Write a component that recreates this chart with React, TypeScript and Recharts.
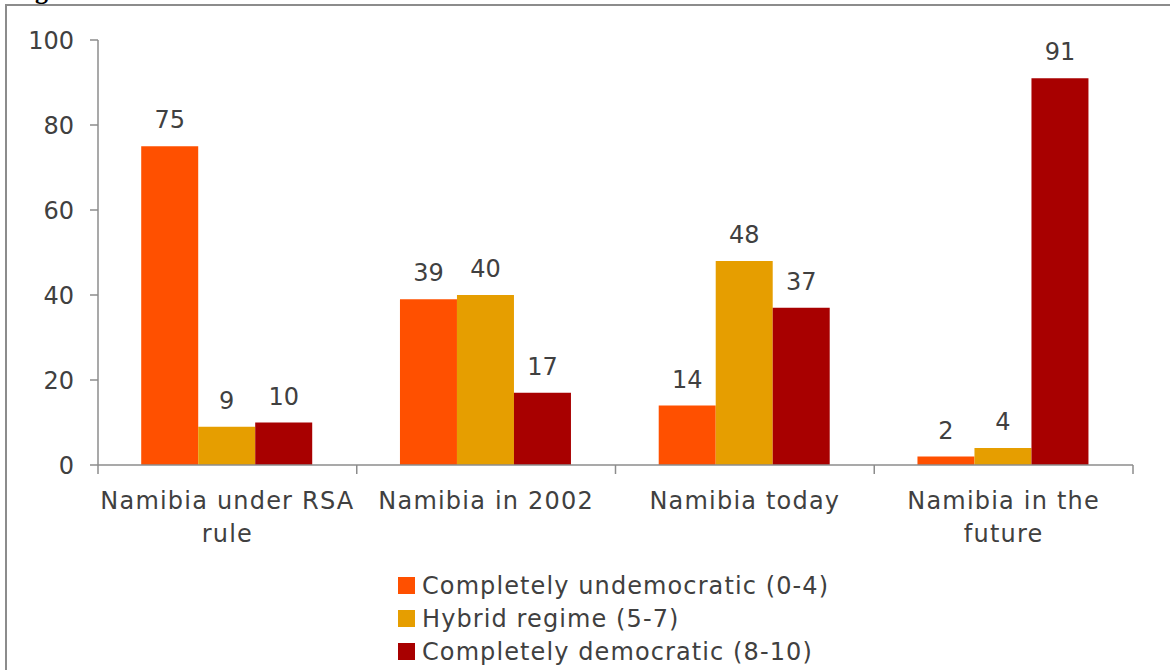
import { BarChart, Bar, XAxis, YAxis, LabelList, Legend } from 'recharts';

// ── Data ───────────────────────────────────────────────────────────────────
const categories = [
  'Namibia under RSA rule',
  'Namibia in 2002',
  'Namibia today',
  'Namibia in the future',
];
const undemocratic = [75, 39, 14, 2];
const hybrid = [9, 40, 48, 4];
const democratic = [10, 17, 37, 91];
const yTicks = [0, 20, 40, 60, 80, 100];

const SERIES = [
  { key: 'undemocratic', name: 'Completely undemocratic (0-4)', color: '#FF5000' },
  { key: 'hybrid', name: 'Hybrid regime (5-7)', color: '#E69E00' },
  { key: 'democratic', name: 'Completely democratic (8-10)', color: '#A80000' },
];

const data = categories.map((name, i) => ({
  name,
  undemocratic: undemocratic[i],
  hybrid: hybrid[i],
  democratic: democratic[i],
}));

const FONT = '"DejaVu Sans", sans-serif';
const TEXT = '#404040';
const AXIS = '#8C8C8C';
const LABEL_SPACING = 1.2;

// greedy word wrap, measured with a canvas
let ctx: CanvasRenderingContext2D | null = null;
function wrap(text: string, maxWidth: number): string[] {
  if (!ctx) ctx = document.createElement('canvas').getContext('2d');
  if (!ctx) return [text];
  ctx.font = `24px ${FONT}`;
  const measure = (s: string) => ctx!.measureText(s).width + s.length * LABEL_SPACING;
  const lines: string[] = [];
  let cur = '';
  for (const w of text.split(' ')) {
    const next = cur ? `${cur} ${w}` : w;
    if (cur && measure(next) > maxWidth) {
      lines.push(cur);
      cur = w;
    } else cur = next;
  }
  if (cur) lines.push(cur);
  return lines;
}

// category label plus boundary tick marks (Excel style, between groups)
function CategoryTick(props: any) {
  const { x, y, payload, index, visibleTicksCount } = props;
  const half = payload?.offset ?? 129.4;
  const last = index === (visibleTicksCount ?? categories.length) - 1;
  const lines = wrap(String(payload.value), 268);
  return (
    <g>
      <line x1={x - half} x2={x - half} y1={y} y2={y + 9} stroke={AXIS} strokeWidth={1.5} />
      {last && <line x1={x + half} x2={x + half} y1={y} y2={y + 9} stroke={AXIS} strokeWidth={1.5} />}
      <text
        x={x}
        y={y + 44}
        textAnchor="middle"
        fill={TEXT}
        style={{ fontSize: 24, fontFamily: FONT, letterSpacing: LABEL_SPACING }}
      >
        {lines.map((l, i) => (
          <tspan key={i} x={x} dy={i === 0 ? 0 : 33}>
            {l}
          </tspan>
        ))}
      </text>
    </g>
  );
}

// legend in series order (Recharts would sort it by name)
function LegendBox() {
  return (
    <div style={{ height: 100, fontFamily: FONT, fontSize: 24, color: TEXT }}>
      {SERIES.map((s) => (
        <div key={s.key} style={{ display: 'flex', alignItems: 'center', height: 33 }}>
          <span style={{ width: 17, height: 17, background: s.color, marginRight: 7, display: 'inline-block' }} />
          <span style={{ letterSpacing: 1.1 }}>{s.name}</span>
        </div>
      ))}
    </div>
  );
}

export default function App() {
  return (
    <div style={{ position: 'fixed', top: 0, left: 0, width: 1170, height: 670, background: '#fff', overflow: 'hidden' }}>
      <div
        style={{
          position: 'absolute',
          left: 12,
          top: -22,
          fontFamily: '"Liberation Serif", serif',
          fontWeight: 'bold',
          fontSize: 26,
          lineHeight: '26px',
          color: '#000',
        }}
      >
        Figure
      </div>
      <div
        style={{
          position: 'absolute',
          left: 5,
          top: 4,
          width: 1300,
          height: 800,
          borderTop: `2px solid ${AXIS}`,
          borderLeft: `2px solid ${AXIS}`,
        }}
      />
      <div style={{ position: 'absolute', left: 0, top: 0 }}>
        <BarChart
          width={1170}
          height={670}
          data={data}
          margin={{ top: 40, right: 37, left: 0, bottom: 5 }}
          barGap={0}
          barCategoryGap="16.7%"
        >
          <YAxis
            width={98}
            domain={[0, 100]}
            ticks={yTicks}
            interval={0}
            tickSize={8}
            tickMargin={16}
            axisLine={{ stroke: AXIS, strokeWidth: 1.5 }}
            tickLine={{ stroke: AXIS, strokeWidth: 1.5 }}
            tick={{ fill: TEXT, fontSize: 24, fontFamily: FONT }}
          />
          <XAxis
            dataKey="name"
            height={100}
            interval={0}
            tickSize={0}
            tickMargin={0}
            tickLine={false}
            axisLine={{ stroke: AXIS, strokeWidth: 1.5 }}
            tick={<CategoryTick />}
          />
          <Legend
            verticalAlign="bottom"
            content={<LegendBox />}
            wrapperStyle={{ top: 569, left: 398, bottom: 'auto', width: 'auto' }}
          />
          {SERIES.map((s) => (
            <Bar key={s.key} dataKey={s.key} name={s.name} fill={s.color} isAnimationActive={false}>
              <LabelList
                dataKey={s.key}
                position="top"
                offset={18}
                fill={TEXT}
                style={{ fontSize: 24, fontFamily: FONT }}
              />
            </Bar>
          ))}
        </BarChart>
      </div>
    </div>
  );
}
